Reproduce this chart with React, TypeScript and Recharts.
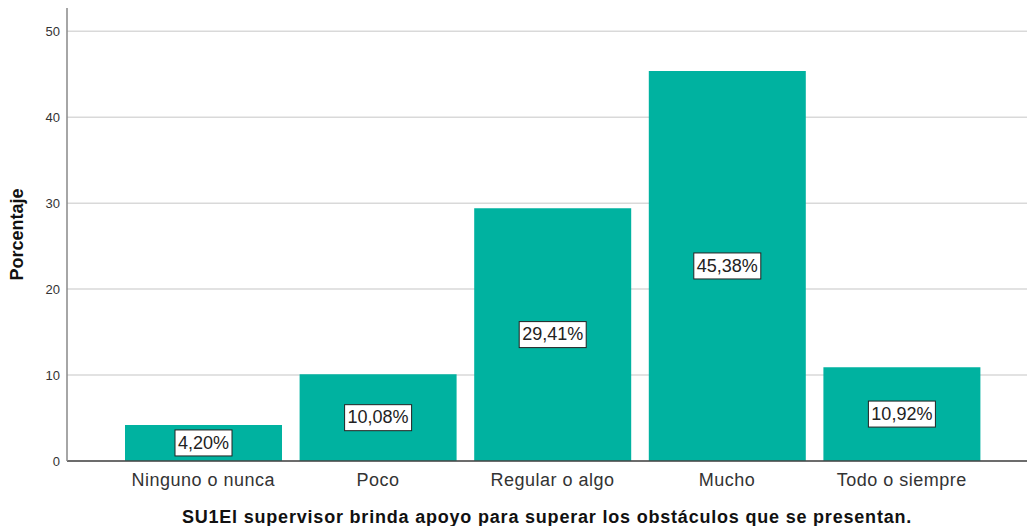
import { Bar, BarChart, CartesianGrid, Label, LabelList, XAxis, YAxis } from "recharts"

const categories = ['Ninguno o nunca', 'Poco', 'Regular o algo', 'Mucho', 'Todo o siempre'];
const percentages = [4.20, 10.08, 29.41, 45.38, 10.92];
const yTicks = [0, 10, 20, 30, 40, 50];

const data = categories.map((name, i) => ({ name, value: percentages[i] }));

const FONT = '"Liberation Sans", Arial, sans-serif';

// boxed percentage label in the middle of each bar
const BoxLabel = (props: any) => {
  const { x, y, width, height, value } = props;
  const text = `${Number(value).toFixed(2).replace('.', ',')}%`;
  const digits = text.replace(/[^0-9]/g, '').length;
  const w = digits * 10 + 5 + 16 + 6;
  const h = 26;
  const cx = x + width / 2;
  const cy = y + height / 2;
  return (
    <g>
      <rect x={cx - w / 2} y={cy - h / 2} width={w} height={h} fill="#fff" stroke="#222" strokeWidth={1} />
      <text x={cx} y={cy + 1} textAnchor="middle" dominantBaseline="middle" fontSize={18} fill="#222" fontFamily={FONT}>
        {text}
      </text>
    </g>
  );
};

export default function App() {
  return (
    <div style={{ position: 'fixed', left: 0, top: 0, width: 1027, height: 526, background: '#fff' }}>
      <BarChart
        width={1027}
        height={526}
        data={data}
        margin={{ top: 8, right: 0, left: 0, bottom: 0 }}
      >
        <CartesianGrid vertical={false} stroke="#d9d9d9" strokeWidth={1.5} syncWithTicks />
        <XAxis
          dataKey="name"
          height={65}
          padding={{ left: 49, right: 38 }}
          tickLine={false}
          axisLine={{ stroke: '#444', strokeWidth: 1.5 }}
          tick={{ fontSize: 18, fill: '#333', fontFamily: FONT, letterSpacing: 0.5 }}
          tickMargin={6}
          interval={0}
        >
          <Label
            value="SU1El supervisor brinda apoyo para superar los obstáculos que se presentan."
            position="insideBottom"
            offset={3}
            style={{ fontSize: 18, fontWeight: 'bold', fill: '#111', fontFamily: FONT, letterSpacing: 0.8 }}
          />
        </XAxis>
        <YAxis
          width={67}
          domain={[0, 52.7]}
          ticks={yTicks}
          tickLine={false}
          tickSize={5}
          axisLine={{ stroke: '#888', strokeWidth: 1.5 }}
          tick={{ fontSize: 13, fill: '#333', fontFamily: FONT }}
          tickMargin={2}
        >
          <Label
            value="Porcentaje"
            angle={-90}
            position="insideLeft"
            offset={17}
            style={{ fontSize: 18, fontWeight: 'bold', fill: '#111', fontFamily: FONT, textAnchor: 'middle' }}
          />
        </YAxis>
        <Bar dataKey="value" fill="#00b2a0" barSize={157} isAnimationActive={false}>
          <LabelList dataKey="value" content={<BoxLabel />} />
        </Bar>
      </BarChart>
    </div>
  );
}
